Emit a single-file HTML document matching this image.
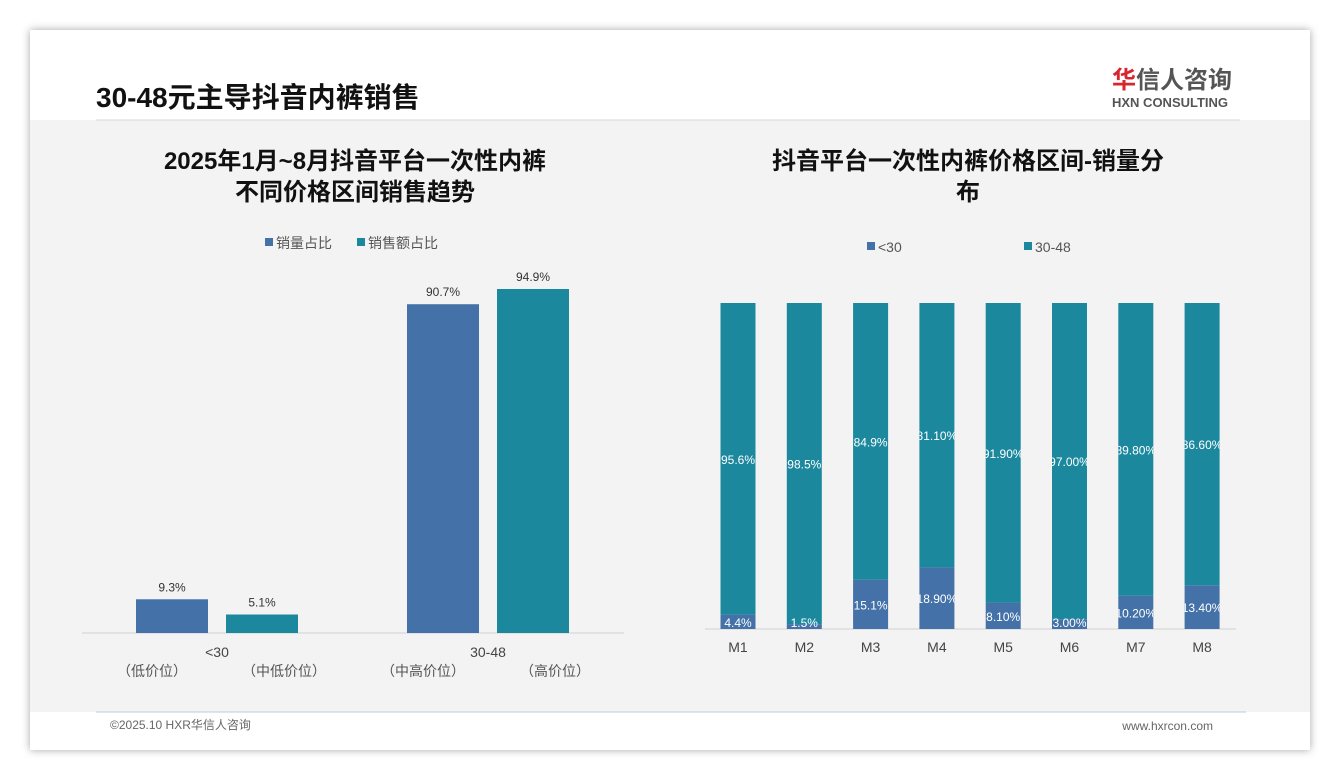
<!DOCTYPE html>
<html><head><meta charset="utf-8"><style>
html,body{margin:0;padding:0;background:#fff;}
body{width:1340px;height:780px;position:relative;overflow:hidden;font-family:"Liberation Sans","Noto Sans CJK SC",sans-serif;}
#card{position:absolute;left:30px;top:30px;width:1280px;height:720px;background:#f3f3f3;box-shadow:0 0 8px rgba(0,0,0,0.35);}
</style></head><body>
<div id="card"></div>
<svg id="svg" width="1340" height="780" style="position:absolute;left:0;top:0" xmlns="http://www.w3.org/2000/svg" font-family="Liberation Sans, Noto Sans CJK SC, sans-serif">
  <rect x="30" y="30" width="1280" height="90" fill="#ffffff"/>
  <rect x="30" y="712" width="1280" height="38" fill="#ffffff"/>
  <text x="96" y="107" font-size="28" font-weight="bold" fill="#111">30-48元主导抖音内裤销售</text>
  <line x1="96" y1="120" x2="1240" y2="120" stroke="#d8d8d8"/>
  <g>
    <text x="1112" y="88" font-size="24" font-weight="bold" fill="#555"><tspan fill="#d8262e">华</tspan>信人咨询</text>
    <text x="1112" y="107" font-size="13" font-weight="bold" fill="#555">HXN CONSULTING</text>
  </g>
  <line x1="96" y1="712" x2="1246" y2="712" stroke="#b8cce0"/>
  <text x="110" y="729" font-size="12" fill="#666">©2025.10 HXR华信人咨询</text>
  <text x="1213" y="730" font-size="12" fill="#666" text-anchor="end">www.hxrcon.com</text>

  <g font-size="24" font-weight="bold" fill="#111" text-anchor="middle">
    <text x="355" y="169">2025年1月~8月抖音平台一次性内裤</text>
    <text x="355" y="200">不同价格区间销售趋势</text>
  </g>
  <g font-size="14" fill="#555">
    <rect x="265" y="238" width="8" height="8" fill="#4472a8"/><text x="276" y="248">销量占比</text>
    <rect x="357" y="238" width="8" height="8" fill="#1b889e"/><text x="368" y="248">销售额占比</text>
  </g>
  <g id="left"></g>

  <g font-size="24" font-weight="bold" fill="#111" text-anchor="middle">
    <text x="968" y="169">抖音平台一次性内裤价格区间-销量分</text>
    <text x="968" y="200">布</text>
  </g>
  <g font-size="14" fill="#555">
    <rect x="867" y="242" width="8" height="8" fill="#4472a8"/><text x="878" y="252">&lt;30</text>
    <rect x="1024" y="242" width="8" height="8" fill="#1b889e"/><text x="1035" y="252">30-48</text>
  </g>
  <g id="right"></g>
</svg>
<script>
const leftCats = ["<30", "30-48"];
const leftSub = [["（低价位）","（中低价位）"],["（中高价位）","（高价位）"]];
const volShare = [9.3, 90.7];
const amtShare = [5.1, 94.9];

const months = ["M1","M2","M3","M4","M5","M6","M7","M8"];
const lowShare = [4.4, 1.5, 15.1, 18.9, 8.1, 3.0, 10.2, 13.4];
const midShare = [95.6, 98.5, 84.9, 81.1, 91.9, 97.0, 89.8, 86.6];
const lowLabels = ["4.4%","1.5%","15.1%","18.90%","8.10%","3.00%","10.20%","13.40%"];
const midLabels = ["95.6%","98.5%","84.9%","81.10%","91.90%","97.00%","89.80%","86.60%"];

const NS = "http://www.w3.org/2000/svg";
function mk(tag, attrs, parent, txt){const e=document.createElementNS(NS,tag);for(const k in attrs)e.setAttribute(k,attrs[k]);if(txt!==undefined)e.textContent=txt;parent.appendChild(e);return e;}

// left chart
const L = document.getElementById('left');
const lBase = 633, lScale = 3.625;
const ly = v => lBase - v*lScale;
const catX = i => 217 + i*271;
const lAxis = mk('line',{x1:82,y1:lBase,x2:624,y2:lBase,stroke:'#d0d0d0'},L);


leftCats.forEach((c,i)=>{
  const cx = catX(i);
  [[volShare,'#4472a8',-45,'volume'],[amtShare,'#1b889e',45,'amount']].forEach(([arr,col,off,nm])=>{
    const v = arr[i];
    const r = mk('rect',{x:cx+off-36,y:ly(v),width:72,height:v*lScale,fill:col},L);
    
    
    const t = mk('text',{x:cx+off,y:ly(v)-8,'font-size':12,fill:'#333','text-anchor':'middle'},L,v.toFixed(1)+'%');
    
    
  });
  const ct = mk('text',{x:cx,y:657,'font-size':14,fill:'#444','text-anchor':'middle'},L,c);
  
  
  const s1 = mk('text',{x:cx-65,y:676,'font-size':14,fill:'#555','text-anchor':'middle'},L,leftSub[i][0]);
  
  
  const s2 = mk('text',{x:cx+67,y:676,'font-size':14,fill:'#555','text-anchor':'middle'},L,leftSub[i][1]);
  
  
});

// right chart
const R = document.getElementById('right');
const rBase = 629, rScale = 3.26;
const ry = v => rBase - v*rScale;
const mx = i => 738 + i*66.3;
const bw = 35;
const defs = mk('defs',{},R);
const rAxis = mk('line',{x1:705,y1:rBase,x2:1236,y2:rBase,stroke:'#d0d0d0'},R);


months.forEach((m,i)=>{
  const cx = mx(i);
  const cp = mk('clipPath',{id:'cp'+i},defs);
  mk('rect',{x:cx-bw/2,y:ry(100),width:bw,height:rBase-ry(100)+12},cp);
  const b1 = mk('rect',{x:cx-bw/2,y:ry(lowShare[i]),width:bw,height:lowShare[i]*rScale,fill:'#4472a8'},R);
  
  
  const b2 = mk('rect',{x:cx-bw/2,y:ry(lowShare[i]+midShare[i]),width:bw,height:midShare[i]*rScale,fill:'#1b889e'},R);
  
  
  const g = mk('g',{'clip-path':'url(#cp'+i+')'},R);
  const t1 = mk('text',{x:cx,y:Math.min(ry(lowShare[i]/2)+5,rBase-2),'font-size':12,fill:'#fff','text-anchor':'middle'},g,lowLabels[i]);
  
  
  const t2 = mk('text',{x:cx,y:ry(lowShare[i]+midShare[i]/2)+5,'font-size':12,fill:'#fff','text-anchor':'middle'},g,midLabels[i]);
  
  
  const ml = mk('text',{x:cx,y:652,'font-size':14,fill:'#444','text-anchor':'middle'},R,m);
  
  
});
</script>
</body></html>
